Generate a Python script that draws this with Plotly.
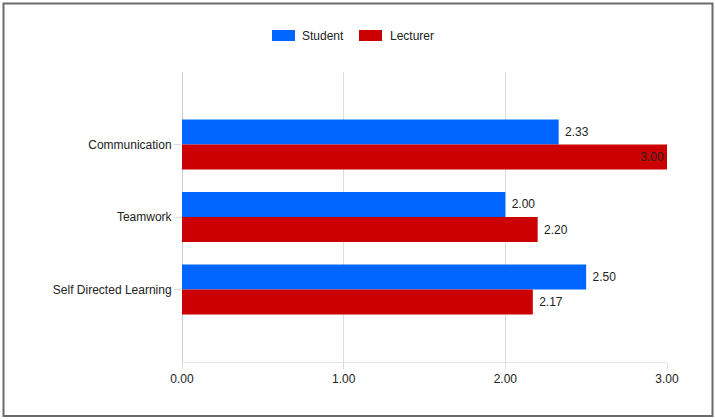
import plotly.graph_objects as go

# Skill ratings by respondent group
skills = ["Communication", "Teamwork", "Self Directed Learning"]
student = [2.33, 2.00, 2.50]
lecturer = [3.00, 2.20, 2.17]
x_ticks = [0, 1, 2, 3]
x_tick_labels = ["0.00", "1.00", "2.00", "3.00"]

W, H = 715, 419
L, R, T, B = 182, 48, 72, 57
pw, ph = W - L - R, H - T - B

def px_x(x):
    return (x - L) / pw

def px_y(y):
    return (H - B - y) / ph

font = dict(family="Liberation Sans, Arial, sans-serif", size=12, color="#222222")
NBSP = "\u00a0"

series = [
    ("Student", student, "#0066ff"),
    ("Lecturer", lecturer, "#cc0000"),
]

fig = go.Figure()
for name, vals, color in series:
    positions = ["inside" if v >= 3 else "outside" for v in vals]
    labels = [f"{v:.2f}" if p == "inside" else NBSP + f"{v:.2f}" for v, p in zip(vals, positions)]
    fig.add_trace(go.Bar(
        y=skills, x=vals, orientation="h", name=name,
        marker=dict(color=color, line=dict(width=0)),
        text=labels, textposition=positions, insidetextanchor="end",
        textfont=font, insidetextfont=font, outsidetextfont=font,
        cliponaxis=False, showlegend=False,
    ))

# Legend row: wide colour swatches followed by series names
legend_items = [(272, 300), (359, 388)]
for (sx, tx), (name, _, color) in zip(legend_items, series):
    fig.add_shape(type="rect", xref="paper", yref="paper",
                  x0=px_x(sx), x1=px_x(sx + 23), y0=px_y(41), y1=px_y(30),
                  line=dict(width=0), fillcolor=color)
    fig.add_annotation(xref="paper", yref="paper", x=px_x(tx), y=px_y(35.5),
                       xanchor="left", yanchor="middle", text=name,
                       showarrow=False, font=font)

# Outer frame
fig.add_shape(type="rect", xref="paper", yref="paper",
              x0=px_x(3.5), x1=px_x(712.5), y0=px_y(416), y1=px_y(3.5),
              line=dict(color="#6b6b6b", width=2), fillcolor="rgba(0,0,0,0)", layer="above")

fig.update_layout(
    width=W, height=H,
    margin=dict(l=L, r=R, t=T, b=B),
    paper_bgcolor="white", plot_bgcolor="white",
    barmode="group", bargap=0.31, bargroupgap=0,
    font=font,
    showlegend=False,
    xaxis=dict(range=[0, 3], tickvals=x_ticks, ticktext=x_tick_labels,
               showgrid=True, gridcolor="#dddddd", gridwidth=1,
               zeroline=True, zerolinecolor="#cccccc", zerolinewidth=1,
               showline=True, linecolor="#e6e6e6", mirror=False,
               ticks="outside", ticklen=6, tickcolor="#dddddd",
               tickfont=font, fixedrange=True),
    yaxis=dict(range=[3, -1], showgrid=False, zeroline=False,
               ticks="outside", ticklen=7, tickcolor="#dddddd",
               tickfont=font, ticklabelstandoff=0, fixedrange=True),
)

fig.write_html("out.html")
